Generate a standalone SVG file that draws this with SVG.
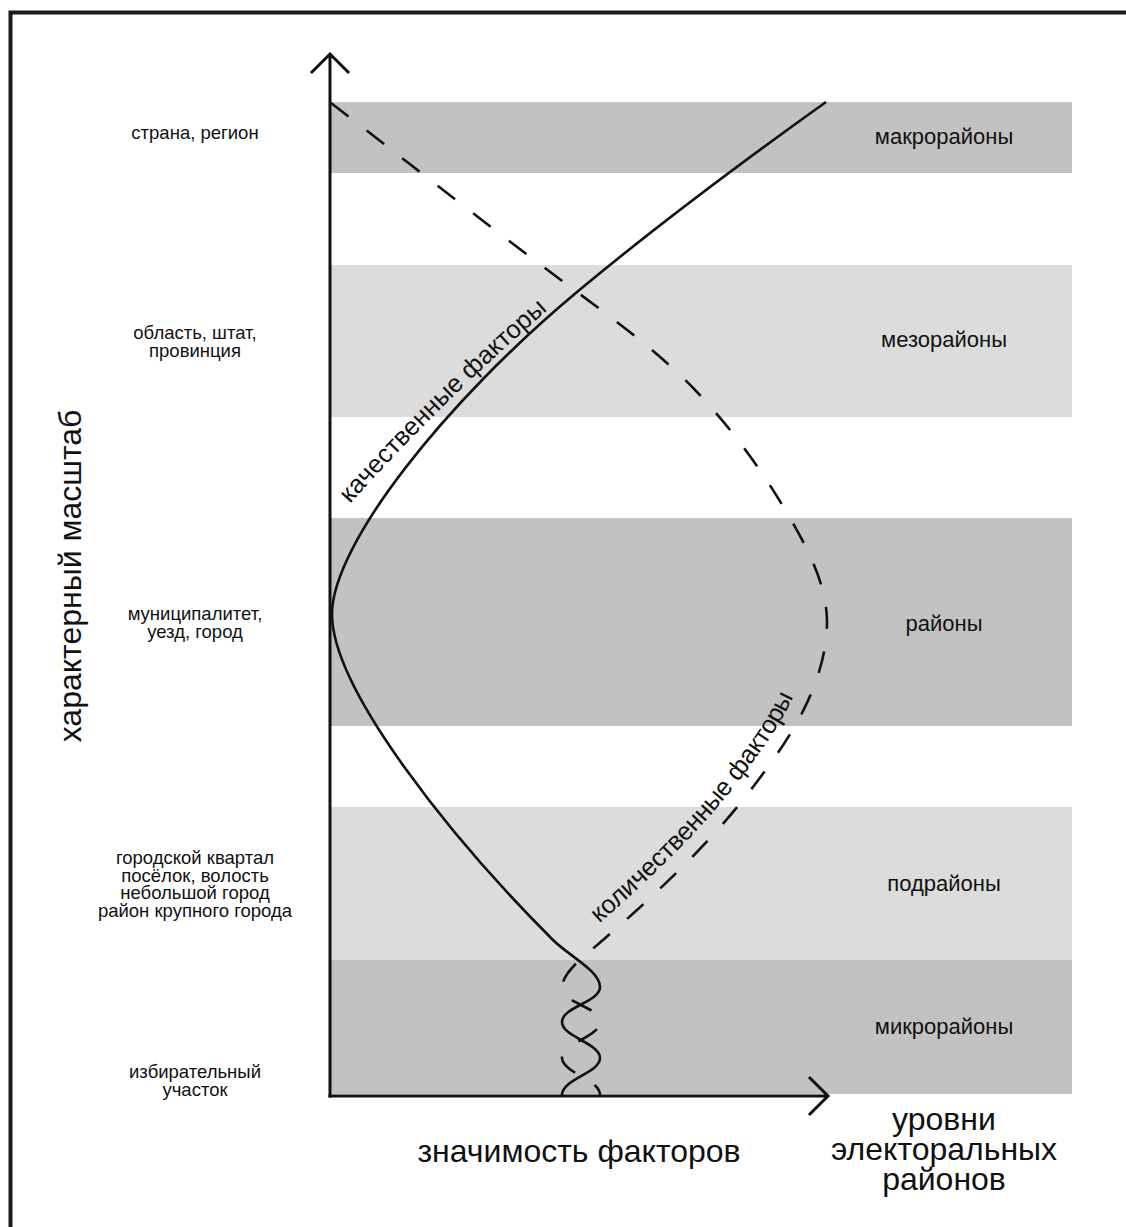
<svg xmlns="http://www.w3.org/2000/svg" width="1126" height="1227" viewBox="0 0 1126 1227">
<style>
text{font-family:"Liberation Sans",Arial,sans-serif;fill:#111}
.dark{fill:#c2c2c2}
.light{fill:#dcdcdc}
.lvl{font-size:22px;text-anchor:middle}
.sc{font-size:18.5px;text-anchor:middle}
.big{font-size:32px;text-anchor:middle}
.cl{font-size:25.5px}
.ax{stroke:#111;stroke-width:3;fill:none;stroke-linecap:square}
.crv{stroke:#111;stroke-width:2.6;fill:none}
.dsh{stroke-dasharray:22 23}
</style>
<defs>
<path id="guide-qual" d="M350,504 Q445,398 557,302"/>
<path id="guide-quant" d="M603,940 C614.5,930 626,920 637,910 C658.2,890.7 678.3,871.3 697,852 C718,830.3 736.5,808.7 753,787 C771.8,762.3 789.4,737.7 802,713 C817.5,682.7 827,652.3 827,622"/>
</defs>
<rect x="0" y="0" width="1126" height="1227" fill="#fff"/>
<rect id="frame" x="10.5" y="12.5" width="1300" height="1400" fill="none" stroke="#1a1a1a" stroke-width="4"/>

<g id="band-macro"><rect class="dark" x="331" y="102" width="741" height="71"/><text class="lvl" x="944" y="144">макрорайоны</text></g>
<g id="band-meso"><rect class="light" x="331" y="265" width="741" height="152"/><text class="lvl" x="944" y="347">мезорайоны</text></g>
<g id="band-rayon"><rect class="dark" x="331" y="518" width="741" height="208"/><text class="lvl" x="944" y="631">районы</text></g>
<g id="band-sub"><rect class="light" x="331" y="807" width="741" height="153"/><text class="lvl" x="944" y="891">подрайоны</text></g>
<g id="band-micro"><rect class="dark" x="331" y="960" width="741" height="134"/><text class="lvl" x="944" y="1034">микрорайоны</text></g>

<g id="scale-labels">
<g id="s1"><text class="sc" x="195" y="139">страна, регион</text></g>
<g id="s2"><text class="sc" x="195" y="339">область, штат,</text><text class="sc" x="195" y="357">провинция</text></g>
<g id="s3"><text class="sc" x="195" y="620">муниципалитет,</text><text class="sc" x="195" y="638">уезд, город</text></g>
<g id="s4"><text class="sc" x="195" y="864">городской квартал</text><text class="sc" x="195" y="882">посёлок, волость</text><text class="sc" x="195" y="899">небольшой город</text><text class="sc" x="195" y="917">район крупного города</text></g>
<g id="s5"><text class="sc" x="195" y="1078">избирательный</text><text class="sc" x="195" y="1096">участок</text></g>
</g>

<g id="axes">
<path class="ax" d="M330,1096 V55 M312,72 L330,54 L348,72"/>
<path class="ax" d="M330,1096 H827 M810,1078 L828,1096 L810,1114"/>
</g>

<g id="connectors">
<path id="qualitative" class="crv" d="M826,102 C737.4,165.3 653,228.7 577,292 C445,402 332,545 332,614 C332,690 453,840 553,940 C568.7,955.7 600,971 600,987 C600,1002 562,1007 562,1022 C562,1037 600,1043 600,1058 C600,1073 562,1079 562,1095"/>
<path id="quantitative" class="crv dsh" d="M331,103 C412.9,166 492,229 577,292 C622,325.3 665.7,358.7 697,392 C736.5,434 765.6,476 790,518 C810.1,552.7 827,587.3 827,622 C827,652.3 817.5,682.7 802,713 C789.4,737.7 771.8,762.3 753,787 C736.5,808.7 718,830.3 697,852 C678.3,871.3 658.2,890.7 637,910 C626,920 614.5,930 603,940 C585.8,955 562,972 562,988 C562,1003 600,1007 600,1022 C600,1037 562,1043 562,1058 C562,1073 600,1079 600,1095"/>
</g>

<g id="curve-labels">
<text class="cl"><textPath href="#guide-qual">качественные факторы</textPath></text>
<text class="cl" dy="-15"><textPath href="#guide-quant" startOffset="8">количественные факторы</textPath></text>
</g>

<g id="axis-titles">
<text class="big" transform="translate(81,576) rotate(-90)">характерный масштаб</text>
<text class="big" x="579" y="1162">значимость факторов</text>
<text class="big" x="944" y="1130">уровни</text>
<text class="big" x="944" y="1160">электоральных</text>
<text class="big" x="944" y="1190">районов</text>
</g>
</svg>
